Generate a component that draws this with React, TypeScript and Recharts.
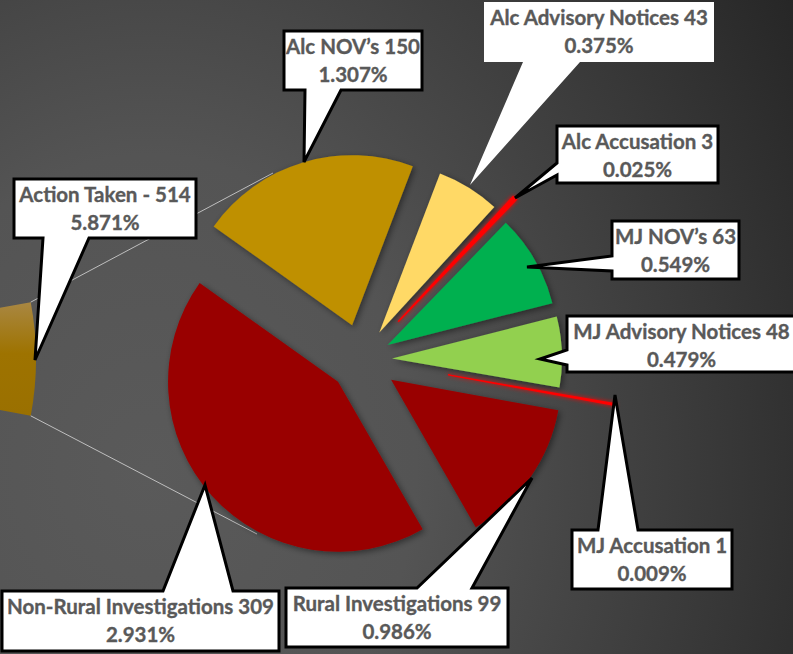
import React from "react";
import { Cell, Pie, PieChart, Sector } from "recharts";

// ---- data ----
const categories = [
  "Alc NOV’s",
  "Alc Advisory Notices",
  "Alc Accusation",
  "MJ NOV’s",
  "MJ Advisory Notices",
  "MJ Accusation",
  "Rural Investigations",
  "Non-Rural Investigations",
];
const counts = [150, 43, 3, 63, 48, 1, 99, 309];
const percentLabels = ["1.307%", "0.375%", "0.025%", "0.549%", "0.479%", "0.009%", "0.986%", "2.931%"];

// left (mostly off-canvas) pie: the whole activity total
const summaryCategories = ["Action Taken", "Other"];
const summaryCounts = [514, 8241];
const summaryPercentLabels = ["5.871%", ""];

const mainData = categories.map((name, i) => ({ name, value: counts[i], pct: percentLabels[i] }));
const summaryData = summaryCategories.map((name, i) => ({
  name,
  value: summaryCounts[i],
  pct: summaryPercentLabels[i],
}));

// ---- styling / layout ----
const W = 793;
const H = 654;
const SLICE_COLORS = ["#BF9000", "#FFD966", "#FF0000", "#00B050", "#92D050", "#FF0000", "#990000", "#990000"];
const EXPLODE = [36, 32, 52, 29, 29.5, 87, 35, 33];
const TEXT = "#595959";
const FONT = "Lato, 'Open Sans', sans-serif";

type Side = "top" | "bottom" | "left";
type Callout = {
  x0: number;
  y0: number;
  x1: number;
  y1: number;
  side: Side;
  a: number;
  b: number;
  tx: number;
  ty: number;
  border?: boolean;
};

// callout boxes, one per main slice (same order as categories)
const CALLOUTS: Callout[] = [
  { x0: 284, y0: 31, x1: 422, y1: 90, side: "bottom", a: 305, b: 341, tx: 304, ty: 162, border: true },
  { x0: 484, y0: 2, x1: 714, y1: 62, side: "bottom", a: 523, b: 580, tx: 470, ty: 185 },
  { x0: 557, y0: 126, x1: 718, y1: 183, side: "left", a: 163, b: 175, tx: 515, ty: 198, border: true },
  { x0: 612, y0: 221, x1: 739, y1: 279, side: "left", a: 256, b: 271, tx: 527, ty: 267, border: true },
  { x0: 567, y0: 316, x1: 796, y1: 372, side: "left", a: 350, b: 365, tx: 540, ty: 359, border: true },
  { x0: 572, y0: 530, x1: 732, y1: 589, side: "top", a: 598, b: 638, tx: 615, ty: 395, border: true },
  { x0: 286, y0: 588, x1: 508, y1: 647, side: "top", a: 417, b: 472, tx: 532, ty: 478, border: true },
  { x0: 2, y0: 591, x1: 279, y1: 651, side: "top", a: 163, b: 233, tx: 205, ty: 485, border: true },
];
const SUMMARY_CALLOUT: Callout = {
  x0: 14, y0: 179, x1: 196, y1: 238, side: "bottom", a: 43, b: 89, tx: 35, ty: 360, border: true,
};
// where the two grey leader lines meet the breakdown pie
const LEADER_TARGETS = [
  { x: 273, y: 173 },
  { x: 257, y: 534 },
];

const RAD = Math.PI / 180;

function calloutPath(c: Callout) {
  const { x0, y0, x1, y1, a, b, tx, ty } = c;
  if (c.side === "bottom") {
    return `M${x0},${y0}H${x1}V${y1}H${b}L${tx},${ty}L${a},${y1}H${x0}Z`;
  }
  if (c.side === "top") {
    return `M${x0},${y0}H${a}L${tx},${ty}L${b},${y0}H${x1}V${y1}H${x0}Z`;
  }
  return `M${x0},${y0}H${x1}V${y1}H${x0}V${b}L${tx},${ty}L${x0},${a}Z`;
}

function CalloutBox({ c, line1, line2 }: { c: Callout; line1: string; line2: string }) {
  const mid = (c.x0 + c.x1) / 2;
  const textProps = {
    textAnchor: "middle" as const,
    fill: TEXT,
    stroke: TEXT,
    strokeWidth: 0.35,
    fontFamily: FONT,
    fontWeight: 700,
    fontSize: 20.5,
  };
  return (
    <g>
      <path
        d={calloutPath(c)}
        fill="#FFFFFF"
        stroke={c.border ? "#000000" : "none"}
        strokeWidth={3}
        strokeLinejoin="miter"
      />
      <text x={mid} y={c.y0 + 23} {...textProps}>
        {line1}
      </text>
      <text x={mid} y={c.y0 + 51} {...textProps}>
        {line2}
      </text>
    </g>
  );
}

function renderSlice(p: any) {
  const i = p.index;
  const e = EXPLODE[i];
  const dx = e * Math.cos(-p.midAngle * RAD);
  const dy = e * Math.sin(-p.midAngle * RAD);
  const thin = SLICE_COLORS[i] === "#FF0000";
  return (
    <Sector
      cx={p.cx + dx}
      cy={p.cy + dy}
      innerRadius={0}
      outerRadius={p.outerRadius}
      startAngle={p.startAngle}
      endAngle={p.endAngle}
      fill={SLICE_COLORS[i]}
      stroke={thin ? "#FF0000" : "none"}
      strokeWidth={thin ? 1.5 : 0}
      filter={thin ? "url(#redGlow)" : "url(#sliceShadow)"}
    />
  );
}

function renderCallout(p: any) {
  const i = p.index;
  return <CalloutBox c={CALLOUTS[i]} line1={`${p.name} ${p.value}`} line2={p.payload.pct} />;
}

function renderSummary(p: any) {
  if (p.index !== 0) return <g />;
  const r = p.outerRadius;
  const top = { x: p.cx + r * Math.cos(-p.startAngle * RAD), y: p.cy + r * Math.sin(-p.startAngle * RAD) };
  const bot = { x: p.cx + r * Math.cos(-p.endAngle * RAD), y: p.cy + r * Math.sin(-p.endAngle * RAD) };
  return (
    <g>
      <line x1={top.x} y1={top.y} x2={LEADER_TARGETS[0].x} y2={LEADER_TARGETS[0].y} stroke="#BFBFBF" strokeWidth={1} />
      <line x1={bot.x} y1={bot.y} x2={LEADER_TARGETS[1].x} y2={LEADER_TARGETS[1].y} stroke="#BFBFBF" strokeWidth={1} />
      <CalloutBox c={SUMMARY_CALLOUT} line1={`${p.name} - ${p.value}`} line2={p.payload.pct} />
    </g>
  );
}

export default function App() {
  return (
    <div
      style={{
        position: "absolute",
        left: 0,
        top: 0,
        width: W,
        height: H,
        overflow: "hidden",
        background:
          "radial-gradient(ellipse 760px 900px at 150px 470px, #5a5a5a 0%, #545454 35%, #383838 75%, #262626 100%)",
      }}
    >
      <svg width={0} height={0} style={{ position: "absolute" }}>
        <defs>
          <linearGradient id="actionGrad" x1="0" y1="0" x2="0" y2="1">
            <stop offset="0%" stopColor="#A98742" />
            <stop offset="45%" stopColor="#9E7300" />
            <stop offset="100%" stopColor="#9A7000" />
          </linearGradient>
          <filter id="sliceShadow" x="-20%" y="-20%" width="140%" height="140%">
            <feDropShadow dx="2" dy="2" stdDeviation="3" floodColor="#000" floodOpacity="0.45" />
          </filter>
          <filter id="redGlow" x="-50%" y="-50%" width="200%" height="200%">
            <feGaussianBlur in="SourceGraphic" stdDeviation="2" result="blur" />
            <feMerge>
              <feMergeNode in="blur" />
              <feMergeNode in="SourceGraphic" />
            </feMerge>
          </filter>
        </defs>
      </svg>
      <PieChart width={W} height={H} margin={{ top: 0, right: 0, bottom: 0, left: 0 }}>
        <Pie
          data={summaryData}
          dataKey="value"
          nameKey="name"
          cx={-274}
          cy={359}
          outerRadius={310}
          startAngle={10.57}
          endAngle={-349.43}
          stroke="none"
          isAnimationActive={false}
          labelLine={false}
          label={renderSummary}
        >
          {summaryData.map((_, i) => (
            <Cell key={i} fill={i === 0 ? "url(#actionGrad)" : "none"} />
          ))}
        </Pie>
        <Pie
          data={mainData}
          dataKey="value"
          nameKey="name"
          cx={362.5}
          cy={359.6}
          outerRadius={170}
          startAngle={144.5}
          endAngle={-215.5}
          fill="none"
          stroke="none"
          isAnimationActive={false}
          labelLine={false}
          label={renderSlice}
        />
        <Pie
          data={mainData}
          dataKey="value"
          nameKey="name"
          cx={362.5}
          cy={359.6}
          outerRadius={170}
          startAngle={144.5}
          endAngle={-215.5}
          fill="none"
          stroke="none"
          isAnimationActive={false}
          labelLine={false}
          label={renderCallout}
        />
      </PieChart>
    </div>
  );
}
